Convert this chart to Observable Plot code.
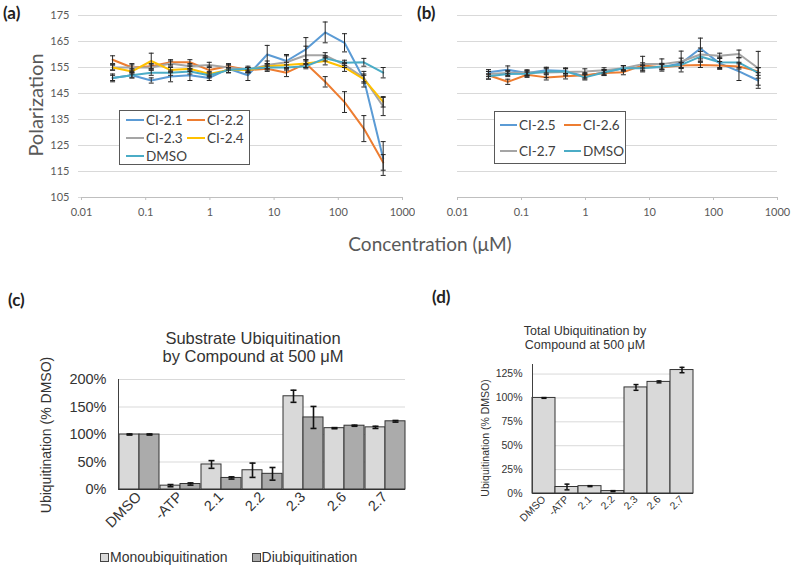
<!DOCTYPE html>
<html><head><meta charset="utf-8">
<script src="https://cdn.jsdelivr.net/npm/d3@7"></script>
<script src="https://cdn.jsdelivr.net/npm/@observablehq/plot@0.6"></script>
<style>
body{margin:0;background:#fff;width:792px;height:569px;position:relative;overflow:hidden;font-family:Lato,"Open Sans",sans-serif;}
.abs{position:absolute;white-space:nowrap;}
.rot{transform:translate(-50%,-50%) rotate(-90deg);}
.ctr{transform:translate(-50%,-50%);}
.plab{font-family:Lato,sans-serif;font-weight:700;font-size:17px;color:#222;}
.leg{position:absolute;border:1px solid #595959;background:#fff;box-sizing:border-box;display:grid;font-family:Lato,sans-serif;font-size:13.5px;color:#404040;}
.leg .it{display:flex;align-items:center;}
.leg .sw{display:inline-block;height:0;border-top:2px solid;margin-right:2px;}
.arial{font-family:"Liberation Sans",Arial,sans-serif;color:#333;}
</style></head><body>
<script>
// ---------- Panels (a) & (b): polarization vs concentration ----------
const conc = [0.0305, 0.061, 0.122, 0.244, 0.488, 0.977, 1.95, 3.91, 7.81, 15.6, 31.25, 62.5, 125, 250, 500];
const xTicks = [0.01, 0.1, 1, 10, 100, 1000];
const xTickLabels = ["0.01", "0.1", "1", "10", "100", "1000"];
const yTicksP = [105, 115, 125, 135, 145, 155, 165, 175];

const seriesA = ["CI-2.1", "CI-2.2", "CI-2.3", "CI-2.4", "DMSO"];
const colorsA = ["#5B9BD5", "#ED7D31", "#A5A5A5", "#FFC000", "#4BACC6"];
const ci21 = [151, 152, 150, 151.5, 152, 151, 154.5, 152, 160, 157.5, 162, 168.5, 164.5, 150.5, 120];
const ci21Err = [1.5, 1, 1, 2, 2, 1, 1.5, 2, 3.5, 2.5, 4.5, 4, 3.5, 3, 6.5];
const ci22 = [158, 155, 155.5, 157, 157, 154, 155.5, 154, 154.5, 153, 156.5, 149.5, 141.7, 131.5, 118.5];
const ci22Err = [1.5, 1.5, 1, 1, 1, 1.5, 1, 1, 1, 1.5, 1.5, 2, 4, 5, 3];
const ci23 = [155, 155, 155, 156.5, 155.5, 156, 155, 154, 156, 157, 159.7, 159.7, 156, 151, 140];
const ci23Err = [1, 1, 1, 1, 1, 1, 1, 1, 1.5, 2.5, 3.5, 1, 1, 1.5, 3.5];
const ci24 = [155, 153.5, 157.5, 154, 154.5, 152.5, 154, 154, 155.5, 156, 156.5, 157.5, 155, 150.5, 141.8];
const ci24Err = [1, 1, 3, 1, 1, 1, 1, 1, 1, 1, 1.5, 1.5, 1.5, 1.5, 2];
const dmsoA = [151, 152, 153, 153, 153.5, 152, 154, 154.5, 155, 155, 155.5, 158.5, 156.8, 157, 153];
const dmsoAErr = [1, 1, 1, 1, 1, 1, 1, 1, 1, 1, 1, 1, 1, 1.5, 2];
const valuesA = [ci21, ci22, ci23, ci24, dmsoA];
const errsA = [ci21Err, ci22Err, ci23Err, ci24Err, dmsoAErr];

const seriesB = ["CI-2.5", "CI-2.6", "CI-2.7", "DMSO"];
const colorsB = ["#5B9BD5", "#ED7D31", "#A5A5A5", "#4BACC6"];
const ci25 = [153.2, 154.1, 152.9, 153.9, 153.7, 151.6, 153.2, 154.7, 155, 155.1, 156.6, 162.3, 156.6, 153.5, 150];
const ci25Err = [1, 1.5, 1, 1, 1, 1, 1, 1, 1, 1.5, 2, 4, 2, 3.5, 3];
const ci26 = [152, 149.5, 152.2, 151.2, 151.6, 152, 152.9, 153.2, 155.8, 155.1, 155.8, 156, 155.8, 155.4, 153.5];
const ci26Err = [1.5, 1, 1, 1, 1, 1, 1, 1, 1, 1, 1, 1, 1.5, 1, 1.5];
const ci27 = [152.5, 152.9, 153.1, 153.1, 153.3, 153.5, 153.9, 154.7, 156.3, 156.3, 157.3, 160, 159.5, 160.2, 154.7];
const ci27Err = [1, 1, 1, 2, 1.5, 1, 1, 1, 3, 2, 4, 2.5, 1, 1.5, 6.5];
const dmsoB = [151.6, 152.5, 152.6, 153.5, 153.5, 151.2, 153.1, 154.7, 154.7, 155.4, 156, 159.2, 157, 156.9, 152.9];
const dmsoBErr = [1, 1, 1, 1, 1, 1, 1, 1, 1, 1, 1, 2, 2, 2, 2];
const valuesB = [ci25, ci26, ci27, dmsoB];
const errsB = [ci25Err, ci26Err, ci27Err, dmsoBErr];

// ---------- Panel (c): substrate ubiquitination ----------
const catsC = ["DMSO", "-ATP", "2.1", "2.2", "2.3", "2.6", "2.7"];
const typesC = ["Monoubiquitination", "Diubiquitination"];
const monoC = [100, 7, 45.5, 35, 169.5, 111.5, 113];
const monoErrC = [1, 2, 7, 13, 11, 1, 2];
const diC = [100, 10, 21, 28.5, 131, 116, 124];
const diErrC = [1, 2, 2, 11.5, 20, 1, 1.5];
const yTicksC = [0, 50, 100, 150, 200];

// ---------- Panel (d): total ubiquitination ----------
const catsD = ["DMSO", "-ATP", "2.1", "2.2", "2.3", "2.6", "2.7"];
const totalD = [100, 6.8, 7.7, 2.5, 111, 116.8, 129.2];
const totalErrD = [0.4, 3, 0.5, 0.5, 3, 1, 2.8];
const yTicksD = [0, 25, 50, 75, 100, 125];

// ---------- helpers ----------
const cap = {draw(ctx, size) { const r = Math.sqrt(size / Math.PI); ctx.moveTo(-r, 0); ctx.lineTo(r, 0); }};
function place(el, left, top) { el.style.position = "absolute"; el.style.left = left + "px"; el.style.top = top + "px"; document.body.appendChild(el); }
function addDiv(html, cls, left, top, style) {
  const d = document.createElement("div"); d.className = "abs " + cls; d.innerHTML = html;
  d.style.left = left + "px"; d.style.top = top + "px"; if (style) d.style.cssText += style;
  document.body.appendChild(d); return d;
}
function longTable(series, values, errs) {
  const t = [];
  series.forEach((s, i) => conc.forEach((c, j) => t.push({series: s, conc: c, value: values[i][j], err: errs[i][j]})));
  return t;
}
function polarPlot(series, colors, values, errs, dims, showY) {
  const t = longTable(series, values, errs);
  return Plot.plot({
    width: dims.w, height: dims.h,
    marginLeft: dims.ml, marginRight: dims.mr, marginTop: dims.mt, marginBottom: dims.mb,
    style: {fontFamily: "Lato, sans-serif", fontSize: "11px", color: "#595959", background: "transparent"},
    x: {type: "log", domain: [0.01, 1000], label: null, axis: null},
    y: {domain: [105, 175], label: null, axis: null},
    color: {domain: series, range: colors},
    marks: [
      Plot.ruleY(yTicksP.slice(1), {stroke: "#d9d9d9"}),
      Plot.ruleY(yTicksP.slice(0, 1), {stroke: "#bfbfbf"}),
      Plot.axisX({ticks: xTicks, tickSize: 3, tickPadding: 8, stroke: "#bfbfbf", fill: "#595959", tickFormat: d => xTickLabels[xTicks.indexOf(d)]}),
      showY ? Plot.axisY({ticks: yTicksP, tickSize: 3, tickPadding: 9, stroke: "#d9d9d9", fill: "#595959"}) : null,
      Plot.line(t, {x: "conc", y: "value", z: "series", stroke: "series", strokeWidth: 2}),
      Plot.ruleX(t, {x: "conc", y1: d => d.value - d.err, y2: d => d.value + d.err, stroke: "#262626", strokeWidth: 1}),
      Plot.dot(t, {x: "conc", y: d => d.value - d.err, symbol: cap, r: 2.5, fill: "none", stroke: "#262626", strokeWidth: 1}),
      Plot.dot(t, {x: "conc", y: d => d.value + d.err, symbol: cap, r: 2.5, fill: "none", stroke: "#262626", strokeWidth: 1})
    ]
  });
}
function legendBox(series, colors, box) {
  const d = document.createElement("div"); d.className = "leg";
  Object.assign(d.style, {left: box.x + "px", top: box.y + "px", width: box.w + "px", height: box.h + "px",
    gridTemplateColumns: `${box.cw}px ${box.cw}px`, gridAutoRows: box.rh + "px", paddingLeft: box.pl + "px", paddingTop: box.pt + "px"});
  series.forEach((s, i) => {
    const it = document.createElement("div"); it.className = "it";
    it.innerHTML = `<span class="sw" style="width:${box.sw}px;border-color:${colors[i]}"></span><span>${s}</span>`;
    d.appendChild(it);
  });
  document.body.appendChild(d);
}

// ---------- (a) ----------
place(polarPlot(seriesA, colorsA, valuesA, errsA, {w: 415, h: 230, ml: 81, mr: 13, mt: 15, mb: 33}, true), 0, 0);
legendBox(seriesA, colorsA, {x: 119, y: 110, w: 131, h: 55, cw: 61, rh: 18, pl: 6, pt: 0, sw: 18});
// ---------- (b) ----------
place(polarPlot(seriesB, colorsB, valuesB, errsB, {w: 372, h: 230, ml: 37, mr: 15, mt: 15, mb: 33}, false), 420, 0);
legendBox(seriesB, colorsB, {x: 494, y: 111, w: 132, h: 53, cw: 64, rh: 26, pl: 5, pt: 0, sw: 17});

addDiv("(a)", "plab", 3, 2);
addDiv("(b)", "plab", 417, 2);
addDiv("Polarization", "rot", 35, 105, "font-size:20px;color:#595959;font-family:Lato,sans-serif;");
addDiv("Concentration (μM)", "ctr", 430, 243, "font-size:19px;color:#595959;font-family:Lato,sans-serif;");

// ---------- (c) ----------
const tableC = [];
catsC.forEach((c, i) => {
  tableC.push({cat: c, type: typesC[0], value: monoC[i], err: monoErrC[i]});
  tableC.push({cat: c, type: typesC[1], value: diC[i], err: diErrC[i]});
});
const plotC = Plot.plot({
  width: 420, height: 200, marginLeft: 115, marginRight: 13, marginTop: 9, marginBottom: 81,
  style: {fontFamily: "Liberation Sans, Arial, sans-serif", fontSize: "14.5px", color: "#333", background: "transparent"},
  fx: {domain: catsC, padding: 0, label: null, axis: "bottom", tickRotate: -45, tickSize: 0, tickPadding: 5},
  x: {domain: typesC, padding: 0, axis: null},
  y: {domain: [0, 200], label: null, axis: null},
  color: {domain: typesC, range: ["#d9d9d9", "#ababab"]},
  marks: [
    Plot.ruleY(yTicksC.slice(1), {stroke: "#d9d9d9"}),
    Plot.axisY({ticks: yTicksC, tickSize: 0, tickPadding: 12, tickFormat: d => d + "%"}),
    Plot.barY(tableC, {fx: "cat", x: "type", y: "value", fill: "type", stroke: "#333", strokeWidth: 1}),
    Plot.ruleX(tableC, {fx: "cat", x: "type", y1: d => d.value - d.err, y2: d => d.value + d.err, stroke: "#111", strokeWidth: 1.6}),
    Plot.dot(tableC, {fx: "cat", x: "type", y: d => d.value - d.err, symbol: cap, r: 3, fill: "none", stroke: "#111", strokeWidth: 1.6}),
    Plot.dot(tableC, {fx: "cat", x: "type", y: d => d.value + d.err, symbol: cap, r: 3, fill: "none", stroke: "#111", strokeWidth: 1.6}),
    Plot.ruleY(yTicksC.slice(0, 1), {stroke: "#333"}),
    Plot.frame({anchor: "left", stroke: "#404040", facet: "super"})
  ]
});
place(plotC, 0, 370);
addDiv("(c)", "plab", 8, 289);
addDiv("Substrate Ubiquitination<br>by Compound at 500 μM", "arial ctr", 253, 347, "font-size:16.5px;line-height:18px;text-align:center;");
addDiv("Ubiquitination (% DMSO)", "arial rot", 46, 435, "font-size:14px;");
const legC = document.createElement("div");
legC.className = "abs arial";
Object.assign(legC.style, {left: "100px", top: "549px", fontSize: "14px", display: "flex"});
const swC = ["#d9d9d9", "#ababab"];
typesC.forEach((t, i) => {
  const s = document.createElement("span");
  s.style.cssText = `display:flex;align-items:center;margin-right:${i === 0 ? 24 : 0}px;`;
  s.innerHTML = `<span style="display:inline-block;width:7px;height:7px;border:1px solid #444;background:${swC[i]};margin-right:1px"></span>${t}`;
  legC.appendChild(s);
});
document.body.appendChild(legC);

// ---------- (d) ----------
const tableD = catsD.map((c, i) => ({cat: c, value: totalD[i], err: totalErrD[i]}));
const plotD = Plot.plot({
  width: 270, height: 214, marginLeft: 92, marginRight: 17, marginTop: 9, marginBottom: 76,
  style: {fontFamily: "Liberation Sans, Arial, sans-serif", fontSize: "10.5px", color: "#333", background: "transparent"},
  x: {domain: catsD, padding: 0, label: null, tickRotate: -45, tickSize: 0, tickPadding: 4},
  y: {domain: [0, 135], label: null, axis: null},
  marks: [
    Plot.ruleY(yTicksD.slice(1), {stroke: "#d9d9d9"}),
    Plot.axisY({ticks: yTicksD, tickSize: 0, tickPadding: 10, tickFormat: d => d + "%"}),
    Plot.barY(tableD, {x: "cat", y: "value", fill: "#d9d9d9", stroke: "#333", strokeWidth: 1}),
    Plot.ruleX(tableD, {x: "cat", y1: d => d.value - d.err, y2: d => d.value + d.err, stroke: "#111", strokeWidth: 1.5}),
    Plot.dot(tableD, {x: "cat", y: d => d.value - d.err, symbol: cap, r: 2.5, fill: "none", stroke: "#111", strokeWidth: 1.5}),
    Plot.dot(tableD, {x: "cat", y: d => d.value + d.err, symbol: cap, r: 2.5, fill: "none", stroke: "#111", strokeWidth: 1.5}),
    Plot.ruleY(yTicksD.slice(0, 1), {stroke: "#333"}),
    Plot.frame({anchor: "left", stroke: "#404040"})
  ]
});
place(plotD, 440, 355);
addDiv("(d)", "plab", 432, 286);
addDiv("Total Ubiquitination by<br>Compound at 500 μM", "arial ctr", 585, 338, "font-size:12.5px;line-height:14px;text-align:center;");
addDiv("Ubiquitination (% DMSO)", "arial rot", 485, 438, "font-size:10.5px;");
</script>
</body></html>
